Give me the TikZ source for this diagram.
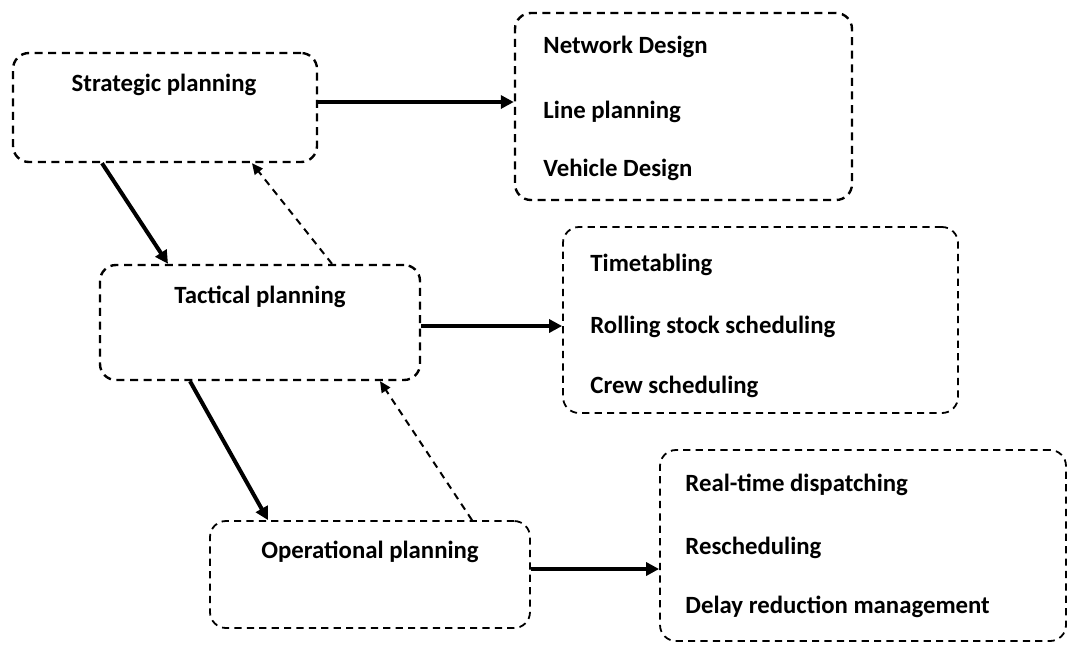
\documentclass[tikz,border=0pt]{standalone}
\usepackage{fontspec}
\setmainfont{Carlito}
\usetikzlibrary{arrows.meta,fit,calc}
\begin{document}
\begin{tikzpicture}[x=0.5pt,y=-0.5pt,
  box/.style={draw=black, line width=1.2pt, dash pattern=on 4pt off 2.8pt, rounded corners=8pt, inner sep=0pt},
  thinbox/.style={box, line width=0.9pt, dash pattern=on 3.6pt off 2.6pt},
  title/.style={font=\fontsize{12.4}{14}\selectfont\bfseries, inner sep=0pt},
  item/.style={font=\fontsize{12.4}{14}\selectfont\bfseries, anchor=west, inner sep=0pt},
  flow/.style={line width=2pt, -{Triangle[length=6.5pt,width=6.5pt]}},
  feedback/.style={line width=1pt, dash pattern=on 3.5pt off 2.8pt, -{Triangle[length=5.5pt,width=5pt]}}
]
\path[use as bounding box] (0,0) rectangle (1069,644);

% planning levels
\node[box, fit={(13,53) (317,162)}] (strat) {};
\node[title] (stratT) at (164,85) {Strategic planning};
\node[box, fit={(100,265) (420,380)}] (tact) {};
\node[title] (tactT) at (260,297) {Tactical planning};
\node[thinbox, fit={(210,521) (530,628)}] (oper) {};
\node[title] (operT) at (370,552) {Operational planning};

% task boxes
\node[box, fit={(515,13) (852,200)}] (b1) {};
\node[item] (n1) at (543,47) {Network Design};
\node[item] (n2) at (543,112) {Line planning};
\node[item] (n3) at (543,170) {Vehicle Design};

\node[thinbox, fit={(563,227) (958,413)}] (b2) {};
\node[item] (t1) at (590,265) {Timetabling};
\node[item] (t2) at (590,327) {Rolling stock scheduling};
\node[item] (t3) at (590,387) {Crew scheduling};

\node[thinbox, fit={(660,450) (1066,641)}] (b3) {};
\node[item] (o1) at (685,485) {Real-time dispatching};
\node[item] (o2) at (685,548) {Rescheduling};
\node[item] (o3) at (685,607) {Delay reduction management};

% horizontal arrows
\draw[flow] (strat.east |- 0,102) -- (b1.west |- 0,102);
\draw[flow] (tact.east |- 0,326) -- (b2.west |- 0,326);
\draw[flow] (oper.east |- 0,569) -- (b3.west |- 0,569);

% downward arrows
\draw[flow] (102,0 |- strat.south) -- (168,0 |- tact.north);
\draw[flow] (190,0 |- tact.south) -- (268,0 |- oper.north);

% feedback arrows
\draw[feedback] (332,0 |- tact.north) -- (252,0 |- strat.south);
\draw[feedback] (472,0 |- oper.north) -- (380,0 |- tact.south);
\end{tikzpicture}
\end{document}
